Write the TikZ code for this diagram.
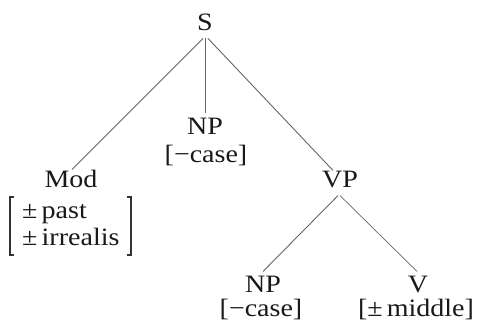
\documentclass[tikz,border=0pt]{standalone}
\usepackage{fontspec}
\setmainfont{Liberation Serif}[FakeStretch=1.12]
\begin{document}
\begin{tikzpicture}[x=1pt,y=-1pt,
  lbl/.style={inner sep=0pt, anchor=base, text=black!90,
    font=\fontsize{25}{28}\selectfont},
  branch/.style={draw=black!60, line width=0.9pt},
  brk/.style={draw=black!80, line width=1.1pt}]
\useasboundingbox[fill=white] (0,0) rectangle (479,327);
% nodes
\node[lbl] (S)    at (205,30)  {S};
\node[lbl] (NPa)  at (205,134) {NP};
\node[lbl] (NPaf) at (206,162) {[−case]};
\node[lbl] (Mod)  at (71,187)  {Mod};
\node[lbl,anchor=base west] (past) at (22,218) {±\,past};
\node[lbl,anchor=base west] (irr)  at (22,245) {±\,irrealis};
\node[lbl] (VP)   at (340,187) {VP};
\node[lbl] (NPb)  at (263,292) {NP};
\node[lbl] (NPbf) at (261,316) {[−case]};
\node[lbl] (V)    at (418,292) {V};
\node[lbl] (Vf)   at (416,316) {[±\,middle]};
% brackets of the Mod feature matrix
\coordinate (lbt) at (10,197); \coordinate (lbb) at (10,255);
\coordinate (rbt) at (131,197); \coordinate (rbb) at (131,255);
\draw[brk] ([xshift=4pt]lbt) -- (lbt) -- (lbb) -- ([xshift=4pt]lbb);
\draw[brk] ([xshift=-4pt]rbt) -- (rbt) -- (rbb) -- ([xshift=-4pt]rbb);
% connectors
\draw[branch] ([xshift=-2pt,yshift=-8pt]S.south) -- ([xshift=1pt]Mod.north);
\draw[branch] ([yshift=-8pt]S.south) -- ([yshift=4pt]NPa.north);
\draw[branch] ([xshift=3pt,yshift=-8pt]S.south) -- ([xshift=-7pt]VP.north);
\draw[branch] ([xshift=-2pt,yshift=-8pt]VP.south) -- ([yshift=4pt]NPb.north);
\draw[branch, line width=0.7pt] ([yshift=-8pt]VP.south) -- ([xshift=-1pt,yshift=4pt]V.north);
\end{tikzpicture}
\end{document}
